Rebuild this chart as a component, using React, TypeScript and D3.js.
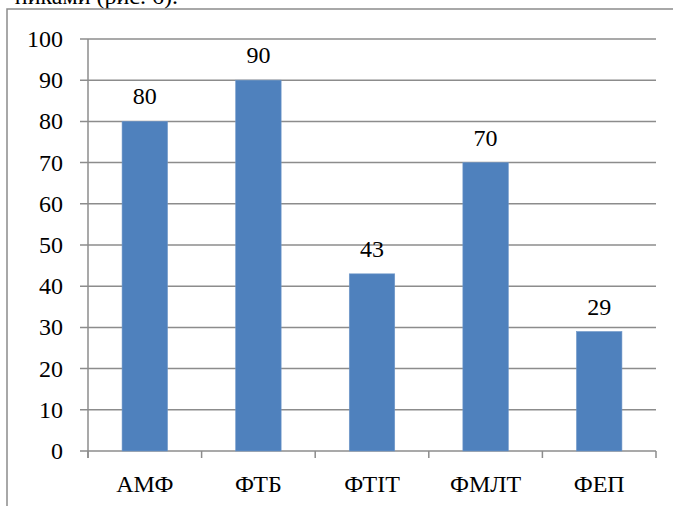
import React from 'react'
import * as d3 from 'd3'

// faculty names and values
const categories = ['АМФ', 'ФТБ', 'ФТІТ', 'ФМЛТ', 'ФЕП']
const values = [80, 90, 43, 70, 29]
const yTicks = [0, 10, 20, 30, 40, 50, 60, 70, 80, 90, 100]

const width = 673,
    height = 506

const font = "Times, 'Nimbus Roman', 'Nimbus Roman No9 L', FreeSerif, 'Liberation Serif', 'DejaVu Serif', serif"
const gridColor = '#8c8c8c'
const txt = { fontFamily: font, fontSize: '24px' }

const App = () => {
    const x = d3.scaleBand<string>()
        .domain(categories)
        .range([88, 656])
        .padding(0)

    const y = d3.scaleLinear()
        .domain([0, 100])
        .range([451, 39])

    const step = x.step()
    const barW = step * 0.4

    // boundaries for the little x-axis ticks
    const bounds = categories.map(c => x(c) as number).concat([x.range()[1]])

    return (
        <svg width={width} height={height}
            style={{ position: 'absolute', left: 0, top: 0, background: '#fff', fontFamily: font }}>
            {/* end of the paragraph above the chart, cut by the crop */}
            <text x={178} y={4} style={txt} textAnchor="end" fill="#000">никами (рис. 6).</text>

            {/* frame of the chart object */}
            <rect x={7} y={9} width={width} height={height} fill="none" stroke={gridColor} strokeWidth={1.5} />

            {/* grid lines + y ticks */}
            {yTicks.map(t => (
                <g key={t}>
                    <line x1={80} x2={x.range()[1]} y1={y(t)} y2={y(t)} stroke={gridColor} strokeWidth={1.5} />
                    <text x={63} y={y(t) + 8} style={txt} textAnchor="end" fill="#000">{t}</text>
                </g>
            ))}

            {/* y axis */}
            <line x1={88} x2={88} y1={y(100)} y2={458} stroke={gridColor} strokeWidth={1.5} />

            {/* x ticks */}
            {bounds.map((b, i) => (
                <line key={i} x1={b} x2={b} y1={y(0)} y2={458} stroke={gridColor} strokeWidth={1.5} />
            ))}

            {/* bars */}
            {categories.map((c, i) => {
                const cx = (x(c) as number) + step / 2
                return (
                    <g key={c}>
                        <rect x={cx - barW / 2} y={y(values[i])} width={barW} height={y(0) - y(values[i])}
                            fill="#4f81bd" stroke="#6f97c8" strokeWidth={0.6} />
                        <text x={cx} y={y(values[i]) - 17} style={txt} textAnchor="middle" fill="#000">{values[i]}</text>
                        <text x={cx} y={492} style={txt} textAnchor="middle" fill="#000">{c}</text>
                    </g>
                )
            })}
        </svg>
    )
}

export default App
